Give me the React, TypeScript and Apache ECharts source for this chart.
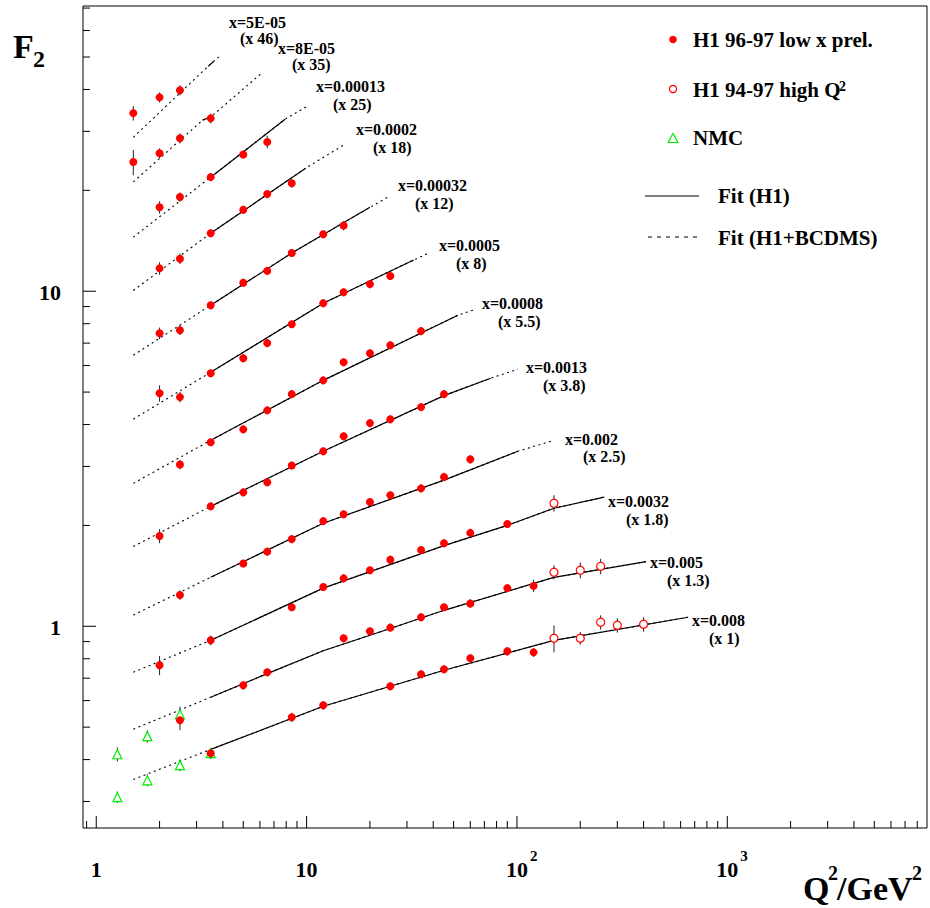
import React, { useEffect, useRef } from "react";
import * as echarts from "echarts";

const X_MIN = 0.865;
const X_MAX = 8900;
const Y_MIN = 0.25;
const Y_MAX = 71;

const BIN_X = ["5E-05", "8E-05", "0.00013", "0.0002", "0.00032", "0.0005", "0.0008", "0.0013", "0.002", "0.0032", "0.005", "0.008"];
const BIN_SCALE = ["46", "35", "25", "18", "12", "8", "5.5", "3.8", "2.5", "1.8", "1.3", "1"];

// H1 96-97 low x prel. : [Q2, F2 x scale, error]
const h1_b01 = [[1.5, 34.0, 1.7], [2, 37.9, 1.3], [2.5, 39.8, 1.4]];
const h1_b02 = [[1.5, 24.3, 2.1], [2, 25.8, 0.9], [2.5, 28.6, 1.0], [3.5, 32.8, 1.1]];
const h1_b03 = [[2, 17.8, 0.75], [2.5, 19.1, 0.6], [3.5, 21.9, 0.6], [5, 25.6, 0.7], [6.5, 27.9, 1.2]];
const h1_b04 = [[2, 11.7, 0.5], [2.5, 12.5, 0.45], [3.5, 14.9, 0.4], [5, 17.5, 0.5], [6.5, 19.5, 0.55], [8.5, 21.0, 0.6]];
const h1_b05 = [[2, 7.49, 0.3], [2.5, 7.65, 0.25], [3.5, 9.08, 0.25], [5, 10.6, 0.3], [6.5, 11.5, 0.3], [8.5, 13.0, 0.35], [12, 14.8, 0.4], [15, 15.7, 0.5]];
const h1_b06 = [[2, 4.96, 0.28], [2.5, 4.83, 0.17], [3.5, 5.69, 0.15], [5, 6.31, 0.17], [6.5, 7.0, 0.19], [8.5, 7.97, 0.2], [12, 9.21, 0.25], [15, 9.93, 0.27], [20, 10.5, 0.3], [25, 11.1, 0.3]];
const h1_b07 = [[2.5, 3.04, 0.1], [3.5, 3.54, 0.09], [5, 3.87, 0.1], [6.5, 4.41, 0.11], [8.5, 4.93, 0.13], [12, 5.42, 0.14], [15, 6.14, 0.17], [20, 6.53, 0.18], [25, 6.9, 0.19], [35, 7.6, 0.21]];
const h1_b08 = [[2, 1.86, 0.09], [3.5, 2.28, 0.06], [5, 2.51, 0.07], [6.5, 2.69, 0.07], [8.5, 3.02, 0.08], [12, 3.33, 0.09], [15, 3.69, 0.1], [20, 4.04, 0.11], [25, 4.15, 0.11], [35, 4.51, 0.12], [45, 4.93, 0.14]];
const h1_b09 = [[2.5, 1.24, 0.04], [5, 1.54, 0.04], [6.5, 1.67, 0.045], [8.5, 1.82, 0.05], [12, 2.06, 0.055], [15, 2.16, 0.06], [20, 2.35, 0.065], [25, 2.46, 0.07], [35, 2.58, 0.07], [45, 2.79, 0.08], [60, 3.15, 0.09]];
const h1_b10 = [[2, 0.765, 0.05], [3.5, 0.908, 0.03], [8.5, 1.14, 0.03], [12, 1.31, 0.035], [15, 1.39, 0.04], [20, 1.47, 0.04], [25, 1.58, 0.045], [35, 1.69, 0.045], [45, 1.77, 0.05], [60, 1.9, 0.05], [90, 2.02, 0.055]];
const h1_b11 = [[2.5, 0.524, 0.034], [5, 0.667, 0.02], [6.5, 0.729, 0.02], [15, 0.921, 0.025], [20, 0.966, 0.026], [25, 0.991, 0.027], [35, 1.064, 0.03], [45, 1.14, 0.03], [60, 1.17, 0.035], [90, 1.3, 0.035], [120, 1.32, 0.055]];
const h1_b12 = [[3.5, 0.418, 0.015], [8.5, 0.535, 0.017], [12, 0.581, 0.017], [25, 0.662, 0.018], [35, 0.719, 0.02], [45, 0.744, 0.02], [60, 0.803, 0.022], [90, 0.842, 0.025], [120, 0.836, 0.025]];
const H1_LOWX = [h1_b01, h1_b02, h1_b03, h1_b04, h1_b05, h1_b06, h1_b07, h1_b08, h1_b09, h1_b10, h1_b11, h1_b12];

// H1 94-97 high Q2
const hq_b10 = [[150, 2.33, 0.13]];
const hq_b11 = [[150, 1.45, 0.07], [200, 1.47, 0.08], [250, 1.51, 0.08]];
const hq_b12 = [[150, 0.921, 0.085], [200, 0.921, 0.04], [250, 1.028, 0.05], [300, 1.007, 0.05], [400, 1.014, 0.05]];
const H1_HIGHQ = [hq_b10, hq_b11, hq_b12];

// NMC
const nmc_b11 = [[1.26, 0.415, 0.02], [1.75, 0.47, 0.02], [2.5, 0.546, 0.03]];
const nmc_b12 = [[1.26, 0.309, 0.012], [1.75, 0.347, 0.014], [2.5, 0.385, 0.015], [3.5, 0.418, 0.015]];
const NMC = [nmc_b11, nmc_b12];

// Fit curves: [Q2, F2 x scale]
const fit_b01 = [[1.5, 28.8], [3.4, 46.9], [3.6, 48.4], [3.9, 50.6]];
const fit_b02 = [[1.5, 21.2], [3.2, 32.4], [3.5, 33.1], [6.2, 45.1]];
const fit_b03 = [[1.5, 14.5], [3.5, 21.9], [7.9, 32.6], [10.1, 35.7]];
const fit_b04 = [[1.5, 10.05], [3.5, 14.9], [9.9, 23.3], [15, 27.3]];
const fit_b05 = [[1.5, 6.44], [3.5, 9.08], [8.5, 13.0], [20, 17.8], [24.4, 19.1]];
const fit_b06 = [[1.5, 4.15], [3.5, 5.73], [12, 9.21], [32.3, 12.4], [38.1, 13.0]];
const fit_b07 = [[1.5, 2.67], [3.5, 3.59], [12, 5.42], [52.4, 8.48], [61.8, 8.78]];
const fit_b08 = [[1.5, 1.73], [3.5, 2.28], [12, 3.33], [45, 4.88], [75, 5.5], [101, 5.85]];
const fit_b09 = [[1.5, 1.08], [3.5, 1.4], [12, 2.03], [45, 2.73], [101, 3.33], [150, 3.59]];
const fit_b10 = [[1.5, 0.729], [3.5, 0.908], [12, 1.3], [45, 1.74], [90, 2.0], [150, 2.25], [260, 2.43]];
const fit_b11 = [[1.5, 0.493], [3.5, 0.614], [6.5, 0.722], [12, 0.845], [25, 0.985], [45, 1.116], [150, 1.4], [411, 1.56]];
const fit_b12 = [[1.5, 0.349], [3.5, 0.429], [12, 0.577], [45, 0.739], [150, 0.908], [651, 1.064]];
const FITS = [fit_b01, fit_b02, fit_b03, fit_b04, fit_b05, fit_b06, fit_b07, fit_b08, fit_b09, fit_b10, fit_b11, fit_b12];
// Q2 range of the H1 fit (solid); the rest is the H1+BCDMS extension (dotted)
const FIT_SOLID = [[3.4, 3.6], [3.2, 3.5], [3.5, 7.9], [3.5, 9.9], [3.5, 20], [3.5, 32.3], [3.5, 52.4], [3.5, 75], [3.5, 101], [3.5, 260], [3.5, 411], [3.5, 651]];

// Axis labels
const X_LABEL_VALUES = [1, 10, 100, 1000];
const X_LABEL_BASE = ["1", "10", "10", "10"];
const X_LABEL_EXP = ["", "", "2", "3"];
const Y_LABEL_VALUES = [1, 10];
const Y_LABEL_TEXT = ["1", "10"];

// Layout: bin label positions [x1, y1, x2, y2] (pixels)
const LABEL_POS = [
  [229, 22, 240, 38], [278, 48, 292, 64], [316, 86, 333, 104], [356, 129, 373, 147],
  [398, 185, 415, 203], [439, 245, 456, 263], [482, 303, 498, 321], [526, 367, 543, 385],
  [565, 439, 583, 456], [608, 501, 626, 519], [650, 562, 667, 580], [692, 620, 709, 638],
];

const SERIF = '"Liberation Serif", "Times New Roman", serif';

function logTicks(min: number, max: number) {
  const out: number[][] = [];
  for (let e = -2; e <= 4; e++) {
    for (let m = 1; m <= 9; m++) {
      const v = parseFloat((m * Math.pow(10, e)).toPrecision(6));
      if (v >= min && v <= max) out.push([v, m === 1 ? 1 : 0]);
    }
  }
  return out;
}

function txt(x: number, y: number, text: string, size: number, align = "left") {
  return {
    type: "text",
    x,
    y,
    silent: true,
    style: {
      text,
      font: `bold ${size}px ${SERIF}`,
      fill: "#000",
      textAlign: align,
      textVerticalAlign: "middle",
      align,
      verticalAlign: "middle",
    },
  };
}

export default function App() {
  const ref = useRef<HTMLDivElement>(null);

  useEffect(() => {
    if (!ref.current) return;
    const chart = echarts.init(ref.current, null, { renderer: "svg" });

    const series: any[] = [];

    FITS.forEach((nodes, i) => {
      series.push({
        type: "line",
        data: nodes,
        symbol: "none",
        silent: true,
        z: 2,
        lineStyle: { color: "#000", width: 1.1, type: [2, 3.5] },
      });
      const [lo, hi] = FIT_SOLID[i];
      const solid = nodes.filter(([q]) => q >= lo - 1e-9 && q <= hi + 1e-9);
      series.push({
        type: "line",
        data: solid,
        symbol: "none",
        silent: true,
        z: 3,
        lineStyle: { color: "#000", width: 1.2, type: "solid" },
      });
    });

    const allErr = [...H1_LOWX.flat(), ...H1_HIGHQ.flat(), ...NMC.flat()];
    series.push({
      type: "custom",
      coordinateSystem: "cartesian2d",
      silent: true,
      z: 4,
      data: allErr,
      encode: { x: 0, y: 1 },
      renderItem: (_p: any, api: any) => {
        const q = api.value(0), v = api.value(1), e = api.value(2);
        const a = api.coord([q, v - e]);
        const b = api.coord([q, v + e]);
        return {
          type: "line",
          shape: { x1: a[0], y1: a[1], x2: b[0], y2: b[1] },
          style: { stroke: "#222", lineWidth: 1 },
        };
      },
    });

    series.push({
      type: "scatter",
      data: NMC.flat().map(([q, v]) => [q, v]),
      symbol: "triangle",
      symbolSize: [9, 9],
      silent: true,
      z: 5,
      itemStyle: { color: "#fff", borderColor: "#00ee00", borderWidth: 1.2, opacity: 1 },
    });
    series.push({
      type: "scatter",
      data: H1_HIGHQ.flat().map(([q, v]) => [q, v]),
      symbol: "circle",
      symbolSize: 8,
      silent: true,
      z: 6,
      itemStyle: { color: "#fff", borderColor: "#ff0000", borderWidth: 1.2, opacity: 1 },
    });
    series.push({
      type: "scatter",
      data: H1_LOWX.flat().map(([q, v]) => [q, v]),
      symbol: "circle",
      symbolSize: 8,
      silent: true,
      z: 6,
      itemStyle: { color: "#ff0000", opacity: 1 },
    });

    // axis ticks
    series.push({
      type: "custom",
      coordinateSystem: "cartesian2d",
      silent: true,
      clip: false,
      z: 7,
      data: logTicks(X_MIN, X_MAX).map(([v, maj]) => [v, Y_MIN, maj]),
      encode: { x: 0, y: 1 },
      renderItem: (_p: any, api: any) => {
        const c = api.coord([api.value(0), api.value(1)]);
        const len = api.value(2) ? 12 : 7;
        return {
          type: "line",
          shape: { x1: c[0], y1: c[1], x2: c[0], y2: c[1] - len },
          style: { stroke: "#000", lineWidth: 1 },
        };
      },
    });
    series.push({
      type: "custom",
      coordinateSystem: "cartesian2d",
      silent: true,
      clip: false,
      z: 7,
      data: logTicks(Y_MIN, Y_MAX).map(([v, maj]) => [X_MIN, v, maj]),
      encode: { x: 0, y: 1 },
      renderItem: (_p: any, api: any) => {
        const c = api.coord([api.value(0), api.value(1)]);
        const len = api.value(2) ? 13 : 7;
        return {
          type: "line",
          shape: { x1: c[0], y1: c[1], x2: c[0] + len, y2: c[1] },
          style: { stroke: "#000", lineWidth: 1 },
        };
      },
    });
    // axis labels
    series.push({
      type: "custom",
      coordinateSystem: "cartesian2d",
      silent: true,
      clip: false,
      z: 7,
      data: X_LABEL_VALUES.map((v, i) => [v, Y_MIN, i]),
      encode: { x: 0, y: 1 },
      renderItem: (_p: any, api: any) => {
        const i = api.value(2);
        const c = api.coord([api.value(0), api.value(1)]);
        const children: any[] = [txt(c[0], c[1] + 41, X_LABEL_BASE[i], 22, "center")];
        if (X_LABEL_EXP[i]) children.push(txt(c[0] + 13, c[1] + 28, X_LABEL_EXP[i], 15, "left"));
        return { type: "group", children };
      },
    });
    series.push({
      type: "custom",
      coordinateSystem: "cartesian2d",
      silent: true,
      clip: false,
      z: 7,
      data: Y_LABEL_VALUES.map((v, i) => [X_MIN, v, i]),
      encode: { x: 0, y: 1 },
      renderItem: (_p: any, api: any) => {
        const i = api.value(2);
        const c = api.coord([api.value(0), api.value(1)]);
        return txt(c[0] - 22, c[1] + 1, Y_LABEL_TEXT[i], 22, "right");
      },
    });

    const graphic: any[] = [];
    BIN_X.forEach((bx, i) => {
      const [x1, y1, x2, y2] = LABEL_POS[i];
      graphic.push(txt(x1, y1, "x=" + bx, 16));
      graphic.push(txt(x2, y2, "(x " + BIN_SCALE[i] + ")", 16));
    });
    // titles
    graphic.push(txt(13, 46.5, "F", 34));
    graphic.push(txt(33, 59, "2", 24));
    graphic.push(txt(803, 888.5, "Q", 34));
    graphic.push(txt(828, 873, "2", 20));
    graphic.push(txt(837, 888.5, "/GeV", 34));
    graphic.push(txt(912, 873, "2", 20));
    // legend
    graphic.push({ type: "circle", silent: true, shape: { cx: 673, cy: 39.5, r: 3.8 }, style: { fill: "#ff0000" } });
    graphic.push(txt(693, 39.5, "H1 96-97 low x prel.", 21));
    graphic.push({ type: "circle", silent: true, shape: { cx: 673, cy: 89, r: 3.6 }, style: { fill: "#fff", stroke: "#ff0000", lineWidth: 1.2 } });
    graphic.push(txt(693, 89.5, "H1 94-97 high Q", 21));
    graphic.push(txt(839, 86, "2", 14));
    graphic.push({ type: "polygon", silent: true, shape: { points: [[668, 142.5], [678, 142.5], [673, 133.5]] }, style: { fill: "#fff", stroke: "#00ee00", lineWidth: 1.2 } });
    graphic.push(txt(693, 137.5, "NMC", 21));
    graphic.push({ type: "line", silent: true, shape: { x1: 645, y1: 196, x2: 699, y2: 196 }, style: { stroke: "#000", lineWidth: 1 } });
    graphic.push(txt(718, 195.5, "Fit (H1)", 21));
    graphic.push({ type: "line", silent: true, shape: { x1: 648, y1: 237, x2: 699, y2: 237 }, style: { stroke: "#000", lineWidth: 1, lineDash: [4, 5] } });
    graphic.push(txt(718, 237.5, "Fit (H1+BCDMS)", 21));

    chart.setOption({
      animation: false,
      backgroundColor: "#fff",
      grid: { left: 83, right: 3, top: 6, bottom: 80, show: true, borderColor: "#000", borderWidth: 1, backgroundColor: "transparent" },
      xAxis: {
        type: "log",
        logBase: 10,
        min: X_MIN,
        max: X_MAX,
        axisLine: { show: false },
        axisTick: { show: false },
        axisLabel: { show: false },
        splitLine: { show: false },
        minorTick: { show: false },
      },
      yAxis: {
        type: "log",
        logBase: 10,
        min: Y_MIN,
        max: Y_MAX,
        axisLine: { show: false },
        axisTick: { show: false },
        axisLabel: { show: false },
        splitLine: { show: false },
        minorTick: { show: false },
      },
      series,
      graphic,
    });

    return () => chart.dispose();
  }, []);

  return (
    <div
      ref={ref}
      style={{ position: "fixed", left: 0, top: 0, width: 930, height: 908, background: "#fff" }}
    />
  );
}
